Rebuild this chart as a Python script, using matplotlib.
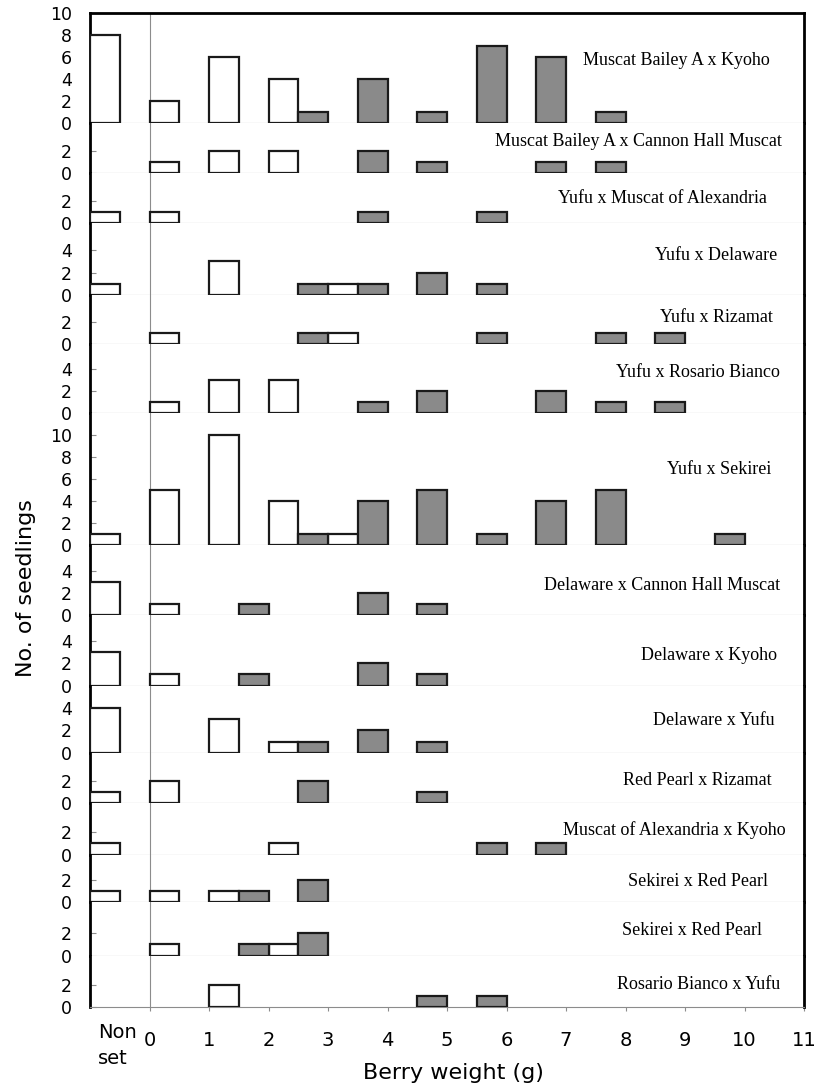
import matplotlib
matplotlib.use('Agg')
import matplotlib.pyplot as plt

# crosses, top to bottom
crosses = ['Muscat Bailey A x Kyoho', 'Muscat Bailey A x Cannon Hall Muscat',
           'Yufu x Muscat of Alexandria', 'Yufu x Delaware', 'Yufu x Rizamat',
           'Yufu x Rosario Bianco', 'Yufu x Sekirei', 'Delaware x Cannon Hall Muscat',
           'Delaware x Kyoho', 'Delaware x Yufu', 'Red Pearl x Rizamat',
           'Muscat of Alexandria x Kyoho', 'Sekirei x Red Pearl', 'Sekirei x Red Pearl',
           'Rosario Bianco x Yufu']

nonset = [8, 0, 1, 1, 0, 0, 1, 3, 3, 4, 1, 1, 1, 0, 0]

# white bars: bins k .. k+0.5 ; dark bars: bins k+0.5 .. k+1  (k = 0..9)
white_bins = [0, 1, 2, 3, 4, 5, 6, 7, 8, 9]
dark_bins = [0.5, 1.5, 2.5, 3.5, 4.5, 5.5, 6.5, 7.5, 8.5, 9.5]

white_counts = [
    [2, 6, 4, 0, 0, 0, 0, 0, 0, 0],
    [1, 2, 2, 0, 0, 0, 0, 0, 0, 0],
    [1, 0, 0, 0, 0, 0, 0, 0, 0, 0],
    [0, 3, 0, 1, 0, 0, 0, 0, 0, 0],
    [1, 0, 0, 1, 0, 0, 0, 0, 0, 0],
    [1, 3, 3, 0, 0, 0, 0, 0, 0, 0],
    [5, 10, 4, 1, 0, 0, 0, 0, 0, 0],
    [1, 0, 0, 0, 0, 0, 0, 0, 0, 0],
    [1, 0, 0, 0, 0, 0, 0, 0, 0, 0],
    [0, 3, 1, 0, 0, 0, 0, 0, 0, 0],
    [2, 0, 0, 0, 0, 0, 0, 0, 0, 0],
    [0, 0, 1, 0, 0, 0, 0, 0, 0, 0],
    [1, 1, 0, 0, 0, 0, 0, 0, 0, 0],
    [1, 0, 1, 0, 0, 0, 0, 0, 0, 0],
    [0, 2, 0, 0, 0, 0, 0, 0, 0, 0],
]

dark_counts = [
    [0, 0, 1, 4, 1, 7, 6, 1, 0, 0],
    [0, 0, 0, 2, 1, 0, 1, 1, 0, 0],
    [0, 0, 0, 1, 0, 1, 0, 0, 0, 0],
    [0, 0, 1, 1, 2, 1, 0, 0, 0, 0],
    [0, 0, 1, 0, 0, 1, 0, 1, 1, 0],
    [0, 0, 0, 1, 2, 0, 2, 1, 1, 0],
    [0, 0, 1, 4, 5, 1, 4, 5, 0, 1],
    [0, 1, 0, 2, 1, 0, 0, 0, 0, 0],
    [0, 1, 0, 2, 1, 0, 0, 0, 0, 0],
    [0, 0, 1, 2, 1, 0, 0, 0, 0, 0],
    [0, 0, 2, 0, 1, 0, 0, 0, 0, 0],
    [0, 0, 0, 0, 0, 1, 1, 0, 0, 0],
    [0, 1, 2, 0, 0, 0, 0, 0, 0, 0],
    [0, 1, 2, 0, 0, 0, 0, 0, 0, 0],
    [0, 0, 0, 0, 1, 1, 0, 0, 0, 0],
]

x_ticks = list(range(0, 12))

# layout of each panel (y range, ticks, name position)
y_tops = [10, 4.5, 4.46, 6.5, 4.43, 6.24, 11.95, 6.3, 6.36, 6.06, 4.52, 4.68, 4.32, 4.8, 4.67]
label_x = [10.42, 10.63, 10.38, 10.55, 10.47, 10.59, 10.45, 10.6, 10.54, 10.5,
           10.45, 10.69, 10.4, 10.3, 10.6]
label_yfrac = [0.57, 0.64, 0.49, 0.55, 0.54, 0.58, 0.57, 0.43, 0.42, 0.48,
               0.45, 0.48, 0.44, 0.48, 0.45]

W, H = 817, 1091
fig = plt.figure(figsize=(W / 100, H / 100), dpi=100)
gs = fig.add_gridspec(len(crosses), 1, height_ratios=y_tops, hspace=0,
                      left=90 / W, right=804 / W, top=1 - 12.7 / H, bottom=1 - 1007.3 / H)

dark_fill = '#8a8a8a'
edge = '#1a1a1a'
grey = '#8c8c8c'


def draw_bars(ax, xs, counts, face):
    # skip empty bins, otherwise their edges cover the zero line
    pts = [(x, c) for x, c in zip(xs, counts) if c > 0]
    if not pts:
        return
    ax.bar([p[0] for p in pts], [p[1] for p in pts], width=0.5, align='edge',
           facecolor=face, edgecolor=edge, linewidth=1.6, zorder=3)


axes = []
for i, name in enumerate(crosses):
    ax = fig.add_subplot(gs[i, 0])
    axes.append(ax)

    draw_bars(ax, [-1], [nonset[i]], 'white')
    draw_bars(ax, white_bins, white_counts[i], 'white')
    draw_bars(ax, dark_bins, dark_counts[i], dark_fill)

    ax.axvline(0, color=grey, linewidth=0.8, zorder=1)

    ax.set_xlim(-1, 11)
    ax.set_ylim(0, y_tops[i])
    if y_tops[i] > 9:
        ax.set_yticks([0, 2, 4, 6, 8, 10])
    elif y_tops[i] > 5:
        ax.set_yticks([0, 2, 4])
    else:
        ax.set_yticks([0, 2])
    ax.set_xticks(x_ticks)

    ax.tick_params(axis='y', direction='in', length=4, width=0.8, color=grey,
                   labelsize=12.5, pad=13)
    ax.tick_params(axis='x', direction='out', length=3, width=0.8, color=grey)
    if i < len(crosses) - 1:
        ax.tick_params(axis='x', labelbottom=False)
    else:
        ax.set_xticklabels([str(t) for t in x_ticks])
        ax.tick_params(axis='x', labelsize=14, pad=14)
        ax.annotate('Non\nset', xy=(-0.87, 0), xycoords=('data', 'axes fraction'),
                    xytext=(0, -11), textcoords='offset points', ha='left', va='top',
                    fontsize=14, linespacing=1.5)

    ax.spines['left'].set_linewidth(2)
    ax.spines['right'].set_linewidth(2)
    ax.spines['bottom'].set_color(grey)
    ax.spines['bottom'].set_linewidth(0.8)
    if i == 0:
        ax.spines['top'].set_linewidth(2)
    else:
        ax.spines['top'].set_visible(False)

    ax.text(label_x[i], label_yfrac[i] * y_tops[i], name, ha='right', va='center',
            family='Liberation Serif', fontsize=13)

fig.text(26 / W, 1 - 588.5 / H, 'No. of seedlings', rotation=90, ha='center',
         va='center', fontsize=16)
fig.text(453.7 / W, 1 - 1073 / H, 'Berry weight (g)', ha='center', va='center',
         fontsize=16)

fig.savefig('out.png', dpi=100)
